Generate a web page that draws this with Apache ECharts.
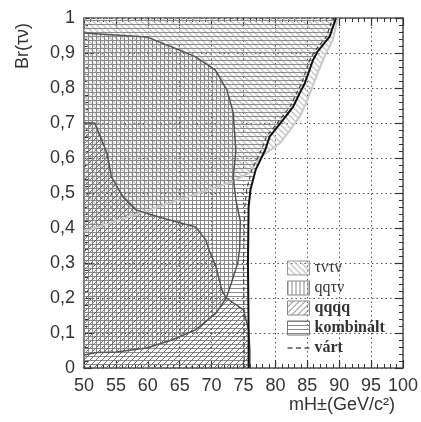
<!DOCTYPE html>
<html>
<head>
<meta charset="utf-8">
<script src="https://cdn.jsdelivr.net/npm/echarts@6/dist/echarts.min.js"></script>
<style>html,body{margin:0;padding:0;background:#fff}#c{width:421px;height:422px}</style>
</head>
<body>
<div id="c"></div>
<script>
// ---- tick labels ----
const xTickValues = [50,55,60,65,70,75,80,85,90,95,100];
const xTickLabels = ['50','55','60','65','70','75','80','85','90','95','100'];
const yTickValues = [0,0.1,0.2,0.3,0.4,0.5,0.6,0.7,0.8,0.9,1];
const yTickLabels = ['0','0,1','0,2','0,3','0,4','0,5','0,6','0,7','0,8','0,9','1'];

// ---- series names ----
const seriesNames = ['τντν','qqτν','qqqq','kombinált','várt'];

// ---- boundary curves [mH, Br] ----
const kombinaltLine = [[75.8,0],[75.8,0.12],[75.7,0.3],[75.8,0.46],[76.1,0.51],[76.9,0.566],[78.4,0.623],[79.1,0.661],[81.2,0.709],[82.8,0.747],[83.8,0.785],[84.6,0.813],[85.9,0.88],[86.6,0.904],[88.5,0.947],[89.5,1.0]];
const vartLine = [[75.1,0],[75.1,0.12],[75.0,0.3],[75.2,0.46],[75.5,0.51],[76.3,0.566],[77.8,0.623],[78.6,0.661],[80.7,0.709],[82.3,0.747],[83.3,0.785],[84.1,0.813],[85.4,0.88],[86.1,0.904],[88.0,0.947],[89.0,1.0]];
const tauLine = [[50,0.39],[54,0.414],[60,0.45],[68,0.5],[73,0.53],[75.8,0.557],[77.5,0.6],[80.7,0.642],[82.3,0.68],[83.8,0.718],[84.8,0.756],[85.6,0.794],[86.6,0.842],[87.7,0.89],[89,0.937],[89.8,1.0]];
const qqtnLine = [[50,0.957],[59.8,0.946],[64.9,0.909],[67.5,0.889],[70.6,0.851],[72.4,0.794],[73.4,0.729],[73.5,0.70],[73.8,0.62],[73.4,0.546],[73.8,0.48],[74.5,0.42],[74.4,0.34],[74.1,0.3],[73.1,0.243],[72.3,0.2],[70.7,0.157],[67.5,0.109],[63.8,0.08],[59.8,0.057],[55.1,0.046],[52,0.044],[50,0.037]];
const qqqqLine = [[50,0.70],[51.7,0.70],[53.6,0.614],[54.3,0.546],[56.1,0.489],[58.2,0.451],[60.7,0.437],[63,0.425],[67.5,0.403],[69.1,0.366],[69.6,0.337],[70.7,0.289],[71.6,0.223],[72.3,0.2],[75.0,0.166],[75.8,0.109],[76,0.05],[76,0]];

// ---- closed regions built from the curves ----
const kombPoly = [[50,0]].concat(kombinaltLine, [[50,1]]);
const tauPoly = [[50,1]].concat(tauLine);
const qqtnPoly = qqtnLine.slice();
const qqqqPoly = [[50,0]].concat(qqqqLine);

function makePattern(kind, color, size, lw) {
  const c = document.createElement('canvas');
  c.width = size; c.height = size;
  const g = c.getContext('2d');
  g.strokeStyle = color; g.lineWidth = lw;
  g.beginPath();
  if (kind === 'h') { g.moveTo(0, 0.5); g.lineTo(size, 0.5); }
  else if (kind === 'v') { g.moveTo(0.5, 0); g.lineTo(0.5, size); }
  else if (kind === '/') {
    g.moveTo(-1, size + 1); g.lineTo(size + 1, -1);
    g.moveTo(-1, 1); g.lineTo(1, -1);
    g.moveTo(size - 1, size + 1); g.lineTo(size + 1, size - 1);
  } else if (kind === '\\') {
    g.moveTo(-1, -1); g.lineTo(size + 1, size + 1);
    g.moveTo(size - 1, -1); g.lineTo(size + 1, 1);
    g.moveTo(-1, size - 1); g.lineTo(1, size + 1);
  }
  g.stroke();
  return { image: c, repeat: 'repeat' };
}
const patTau = makePattern('\\', '#c4c4c4', 6, 1.3);
const patQqtn = makePattern('v', '#8a8a8a', 4, 1);
const patQqqq = makePattern('/', '#6e6e6e', 6, 1);
const patKomb = makePattern('h', '#8a8a8a', 4, 1);

function polySeries(name, pts, pattern, z) {
  return {
    name: name, type: 'custom', data: pts, z: z, silent: true,
    encode: { x: 0, y: 1 },
    itemStyle: { color: pattern, borderColor: '#888', borderWidth: 1 },
    renderItem: function (params, api) {
      if (params.dataIndex !== 0) return null;
      const p = pts.map(function (d) { return api.coord(d); });
      return { type: 'polygon', shape: { points: p }, style: { fill: pattern, stroke: null } };
    }
  };
}
function lineSeries(name, pts, color, width, type, z) {
  return {
    name: name, type: 'line', data: pts, z: z, silent: true,
    showSymbol: false, symbol: 'none', smooth: false,
    lineStyle: { color: color, width: width, type: type },
    itemStyle: { color: color }
  };
}

const chart = echarts.init(document.getElementById('c'), null, { renderer: 'canvas' });

const labelFont = { fontFamily: 'Liberation Sans, Arial, sans-serif', fontSize: 18, color: '#333' };
function xl(v) { const i = xTickValues.indexOf(Math.round(v)); return i >= 0 ? xTickLabels[i] : ''; }
function yl(v) { const i = yTickValues.findIndex(function (t) { return Math.abs(t - v) < 1e-6; }); return i >= 0 ? yTickLabels[i] : ''; }

const axisBase = {
  type: 'value',
  axisLine: { show: true, onZero: false, lineStyle: { color: '#555', width: 1.5 } },
  axisTick: { show: true, inside: true, length: 8, lineStyle: { color: '#333', width: 1.2 } },
  minorTick: { show: true, splitNumber: 5, length: 4, lineStyle: { color: '#333', width: 1 } },
  minorSplitLine: { show: false }
};

chart.setOption({
  animation: false,
  backgroundColor: '#fff',
  grid: { left: 84, right: 15, top: 18, bottom: 54 },
  xAxis: [
    Object.assign({}, axisBase, {
      min: 50, max: 100, interval: 5, position: 'bottom',
      axisLabel: Object.assign({ margin: 9, formatter: xl }, labelFont),
      splitLine: { show: true, lineStyle: { color: '#555', type: [1.5, 3], width: 1 } }
    }),
    Object.assign({}, axisBase, {
      min: 50, max: 100, interval: 5, position: 'top',
      axisLabel: { show: false }, splitLine: { show: false }
    })
  ],
  yAxis: [
    Object.assign({}, axisBase, {
      min: 0, max: 1, interval: 0.1, position: 'left',
      axisLabel: Object.assign({ margin: 9, formatter: yl }, labelFont),
      splitLine: { show: true, lineStyle: { color: '#555', type: [1.5, 3], width: 1 } }
    }),
    Object.assign({}, axisBase, {
      min: 0, max: 1, interval: 0.1, position: 'right',
      axisLabel: { show: false }, splitLine: { show: false }
    })
  ],
  legend: {
    orient: 'vertical', left: 282, top: 255,
    itemWidth: 22, itemHeight: 14, itemGap: 4, symbolKeepAspect: true,
    textStyle: { fontFamily: 'Liberation Serif, DejaVu Serif, serif', fontSize: 16, fontWeight: 'bold', color: '#333' },
    selectedMode: false,
    data: [
      { name: seriesNames[0], icon: 'rect', itemStyle: { color: patTau, borderColor: '#999', borderWidth: 1 }, textStyle: { fontWeight: 'normal' } },
      { name: seriesNames[1], icon: 'rect', itemStyle: { color: patQqtn, borderColor: '#888', borderWidth: 1 }, textStyle: { fontWeight: 'normal' } },
      { name: seriesNames[2], icon: 'rect', itemStyle: { color: patQqqq, borderColor: '#888', borderWidth: 1 } },
      { name: seriesNames[3], icon: 'rect', itemStyle: { color: patKomb, borderColor: '#777', borderWidth: 1 } },
      { name: seriesNames[4], icon: 'path://M0,0h5v1.4h-5zM8.5,0h5v1.4h-5zM17,0h5v1.4h-5z', itemStyle: { color: '#555', borderWidth: 0 } }
    ]
  },
  graphic: [
    { type: 'text', x: 23, y: 46, rotation: Math.PI / 2,
      style: { text: 'Br(τν)', fill: '#333', font: '18px "Liberation Sans", Arial, sans-serif', textAlign: 'center', textVerticalAlign: 'middle' } },
    { type: 'text', x: 342, y: 405,
      style: { text: 'mH±(GeV/c²)', fill: '#333', font: '18px "Liberation Sans", Arial, sans-serif', textAlign: 'center', textVerticalAlign: 'middle' } }
  ],
  series: [
    polySeries(seriesNames[0], tauPoly, patTau, 1),
    polySeries(seriesNames[3], kombPoly, patKomb, 2),
    polySeries(seriesNames[1], qqtnPoly, patQqtn, 3),
    polySeries(seriesNames[2], qqqqPoly, patQqqq, 4),
    lineSeries('', tauLine, '#c8c8c8', 2, 'solid', 5),
    lineSeries('', qqtnLine, '#555', 1.5, 'solid', 6),
    lineSeries('', qqqqLine, '#555', 1.5, 'solid', 6),
    lineSeries(seriesNames[4], vartLine, '#444', 1.2, [4, 3], 7),
    lineSeries('', kombinaltLine, '#111', 2, 'solid', 8)
  ]
});
</script>
</body>
</html>
